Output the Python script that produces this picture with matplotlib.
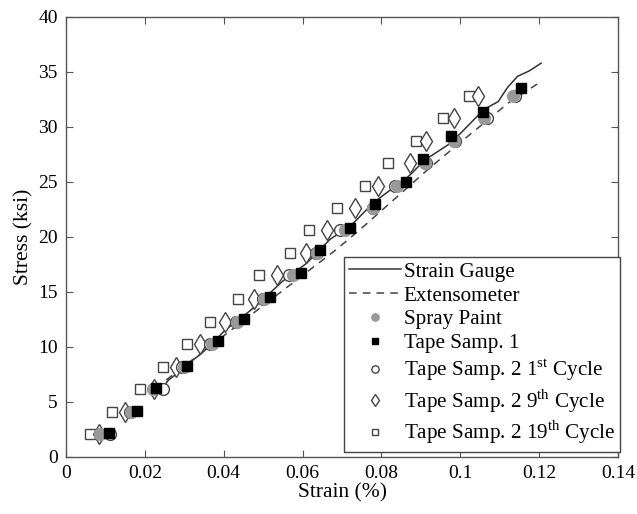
import matplotlib
matplotlib.use("Agg")
import matplotlib.pyplot as plt
import numpy as np

plt.rcParams['font.family'] = ['Liberation Serif', 'DejaVu Serif']
plt.rcParams['mathtext.fontset'] = 'custom'
plt.rcParams['mathtext.rm'] = 'Liberation Serif'

# strain gauge curve (strain %, stress ksi)
gauge_x = [0.0235, 0.026, 0.029, 0.031, 0.034, 0.037, 0.040, 0.043, 0.046, 0.049,
           0.052, 0.055, 0.058, 0.061, 0.064, 0.067, 0.070, 0.073, 0.076, 0.079,
           0.082, 0.085, 0.088, 0.091, 0.094, 0.097, 0.100, 0.103, 0.106, 0.1096,
           0.112, 0.1145, 0.1175, 0.1205]
gauge_y = [5.8, 7.0, 7.8, 8.5, 9.3, 10.3, 11.4, 12.3, 13.1, 14.0,
           15.0, 16.0, 16.8, 17.6, 18.7, 19.8, 20.5, 21.3, 22.4, 23.4,
           24.2, 24.9, 25.9, 27.0, 27.7, 28.4, 29.4, 30.5, 31.6, 32.3,
           33.6, 34.6, 35.1, 35.8]

# extensometer
ext_x = [0.0254, 0.0687, 0.0753, 0.0923, 0.1007, 0.1126, 0.1195]
ext_y = [7.0, 18.9, 20.9, 26.3, 28.8, 32.3, 33.9]

levels = [2.1, 4.1, 6.2, 8.2, 10.3, 12.3, 14.4, 16.5, 18.5, 20.6, 22.6, 24.6, 26.7, 28.7, 30.8, 32.8]

spray_x = [0.0085, 0.0165, 0.022, 0.030, 0.037, 0.0434, 0.0502, 0.0576, 0.0636, 0.0708,
           0.0779, 0.084, 0.091, 0.0984, 0.106, 0.1134]
spray_y = levels

tape1_x = [0.011, 0.018, 0.0228, 0.0307, 0.0385, 0.0451, 0.0517, 0.0595, 0.0644, 0.072,
           0.0784, 0.0862, 0.0905, 0.0976, 0.1058, 0.1154]
tape1_y = [2.2, 4.2, 6.3, 8.3, 10.5, 12.5, 14.5, 16.7, 18.8, 20.8,
           23.0, 25.0, 27.1, 29.2, 31.4, 33.5]

cyc1_x = [0.0112, 0.0162, 0.0246, 0.0295, 0.0365, 0.0432, 0.050, 0.0566, 0.0634, 0.0695,
          0.0779, 0.0834, 0.0912, 0.0986, 0.1068, 0.1138]
cyc1_y = levels

cyc9_x = [0.0084, 0.015, 0.0222, 0.0279, 0.034, 0.0403, 0.0477, 0.0535, 0.0609, 0.0662,
          0.0733, 0.0791, 0.0872, 0.0913, 0.0984, 0.1045]
cyc9_y = levels

cyc19_x = [0.0061, 0.0117, 0.0188, 0.0246, 0.0307, 0.0365, 0.0436, 0.049, 0.0568, 0.0616,
           0.0687, 0.0758, 0.0817, 0.0888, 0.0956, 0.1022]
cyc19_y = levels

fig = plt.figure(figsize=(6.37, 5.14), dpi=100)
ax = fig.add_axes([0.1036, 0.1109, 0.8666, 0.8561])

ax.plot(gauge_x, gauge_y, '-', color='#333333', lw=1.1, label='Strain Gauge')
ax.plot(ext_x, ext_y, '--', color='#444444', lw=1.1, dashes=(5, 4), label='Extensometer')
ax.plot(cyc19_x, cyc19_y, 's', ms=7, mfc='white', mec='#444444', mew=1.0, ls='none',
        label='Tape Samp. 2 19$^{\\rm th}$ Cycle')
ax.plot(cyc9_x, cyc9_y, 'd', ms=10.5, mfc='white', mec='#444444', mew=1.0, ls='none',
        label='Tape Samp. 2 9$^{\\rm th}$ Cycle')
ax.plot(cyc1_x, cyc1_y, 'o', ms=8.5, mfc='white', mec='#444444', mew=1.0, ls='none',
        label='Tape Samp. 2 1$^{\\rm st}$ Cycle')
ax.plot(spray_x, spray_y, 'o', ms=8.5, color='#999999', ls='none', label='Spray Paint')
ax.plot(tape1_x, tape1_y, 's', ms=7, color='black', ls='none', label='Tape Samp. 1')

handles, labels = ax.get_legend_handles_labels()
order = [0, 1, 5, 6, 4, 3, 2]
leg = ax.legend([handles[i] for i in order], [labels[i] for i in order],
                loc='lower right', bbox_to_anchor=(1.004, 0.012), fontsize=15.2,
                fancybox=False, framealpha=1, edgecolor='#444444', markerscale=0.62,
                handlelength=2.45, handletextpad=0.12, labelspacing=0.19,
                borderpad=0.25, borderaxespad=0)
leg.get_frame().set_linewidth(1.0)

ax.set_xlim(0, 0.14)
ax.set_ylim(0, 40)
ax.set_xticks([0, 0.02, 0.04, 0.06, 0.08, 0.1, 0.12, 0.14])
ax.set_xticklabels(['0', '0.02', '0.04', '0.06', '0.08', '0.1', '0.12', '0.14'])
ax.set_yticks(range(0, 41, 5))
ax.tick_params(direction='in', top=True, right=True, labelsize=14, length=5,
               color='#555555', pad=6)
for s in ax.spines.values():
    s.set_color('#555555')
    s.set_linewidth(1.0)
ax.set_xlabel('Strain (%)', fontsize=15.5, labelpad=1)
ax.set_ylabel('Stress (ksi)', fontsize=15.5, labelpad=3)

fig.savefig('out.png', dpi=100)
